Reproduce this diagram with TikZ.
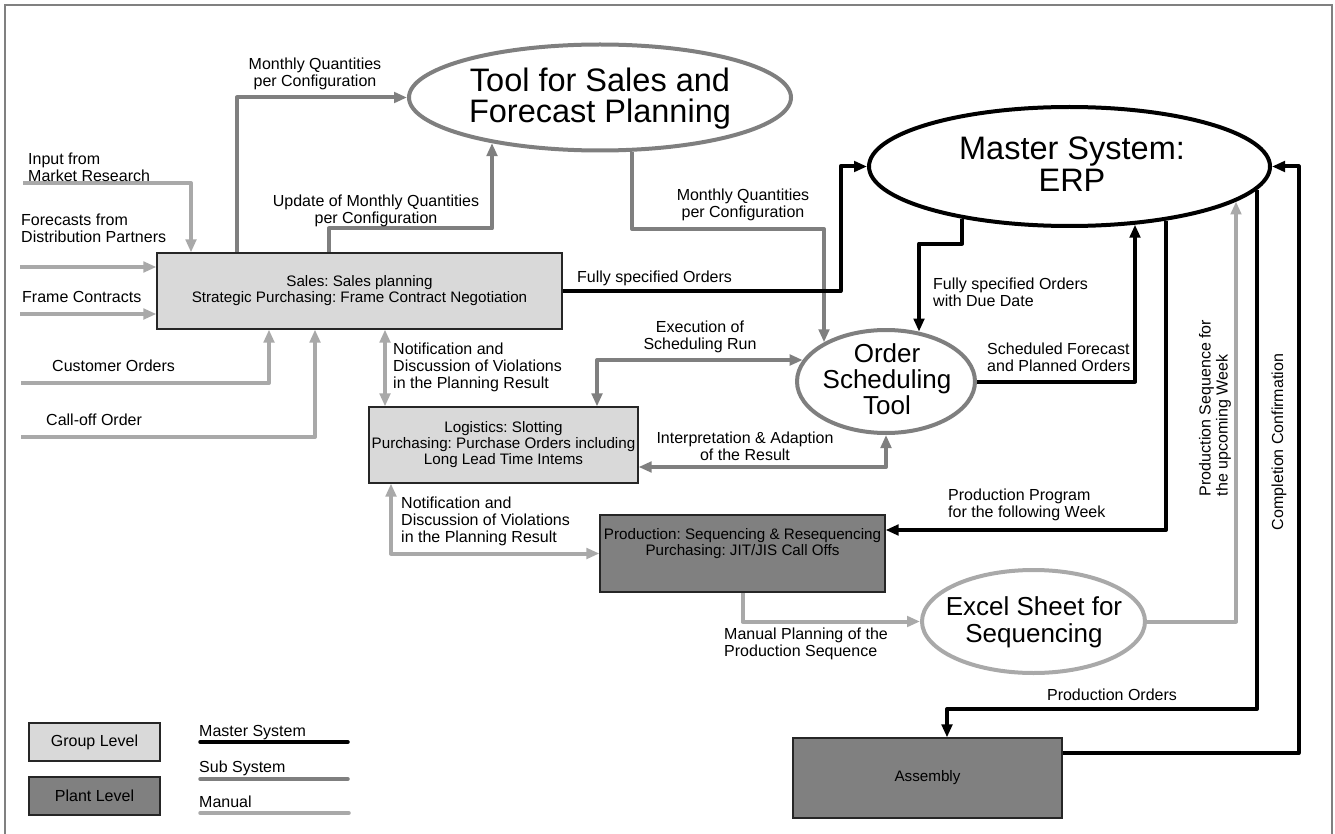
\documentclass[tikz,border=0pt]{standalone}
\usepackage{fontspec}
\setmainfont{Liberation Sans}
\frenchspacing
\usetikzlibrary{arrows.meta,shapes.geometric,backgrounds}
\definecolor{subgray}{HTML}{7F7F7F}
\definecolor{mangray}{HTML}{A9A9A9}
\definecolor{groupfill}{HTML}{D9D9D9}
\definecolor{plantfill}{HTML}{808080}
\definecolor{framegray}{HTML}{808080}

\begin{document}
\begin{tikzpicture}[x=1pt,y=-1pt,
  every node/.style={font=\fontsize{16}{17}\selectfont},
  lbl/.style={inner sep=0pt,align=center},
  lblL/.style={inner sep=0pt,align=left,anchor=west},
  flow/.style={line width=4pt,line join=round},
  master/.style={flow,draw=black},
  subsys/.style={flow,draw=subgray},
  manual/.style={flow,draw=mangray},
  tipend/.style={-{Triangle[length=13pt,width=10.5pt]}},
  tipboth/.style={{Triangle[length=13pt,width=10.5pt]}-{Triangle[length=13pt,width=10.5pt]}},
  levelbox/.style={draw=black!85,line width=1.2pt,inner xsep=0.5pt,inner ysep=0pt,align=center,font=\fontsize{15.2}{16}\selectfont},
  groupbox/.style={levelbox,fill=groupfill},
  plantbox/.style={levelbox,fill=plantfill},
  sysellipse/.style={ellipse,line width=4pt,fill=white,inner sep=0pt},
  systext/.style={inner sep=0pt,align=center},
]
\useasboundingbox (0,0) rectangle (1335,834);
\draw[framegray,line width=1.5pt] (5,834) -- (5,5) -- (1332,5) -- (1332,834);

% ---- systems (ellipses) ----
\node[sysellipse,draw=subgray,minimum width=382pt,minimum height=106pt] (tool) at (600,97.5) {};
\node[systext,font=\fontsize{32.5}{31}\selectfont] (tooltxt) at (600,98.6) {Tool for Sales and\\Forecast Planning};

\node[sysellipse,draw=black,minimum width=401pt,minimum height=119pt] (erp) at (1069.5,166.5) {};
\node[systext,font=\fontsize{32.5}{32}\selectfont] (erptxt) at (1072,164) {Master System:\\ERP};

\node[sysellipse,draw=subgray,minimum width=178pt,minimum height=103pt] (ost) at (886,381.5) {};
\node[systext,font=\fontsize{26}{26}\selectfont] (osttxt) at (887,379) {Order\\Scheduling\\Tool};

\node[sysellipse,draw=mangray,minimum width=223pt,minimum height=103pt] (excel) at (1033.5,621.5) {};
\node[systext,font=\fontsize{26}{27}\selectfont] (exceltxt) at (1034,622) {Excel Sheet for\\Sequencing};

% ---- organisational units ----
\node[groupbox,minimum width=405pt,minimum height=76pt] (sales) at (359.5,291) {Sales: Sales planning\\Strategic Purchasing: Frame Contract Negotiation};
\node[groupbox,minimum width=269pt,minimum height=76pt] (logi) at (503.5,445) {Logistics: Slotting\\Purchasing: Purchase Orders including\\Long Lead Time Intems};
\node[plantbox,minimum width=285pt,minimum height=77pt] (prod) at (742.5,553.5) {Production: Sequencing \& Resequencing\\Purchasing: JIT/JIS Call Offs\\[8pt]};
\node[plantbox,minimum width=269pt,minimum height=80pt] (asm) at (927.5,778) {Assembly};

% ---- free ends and rim points ----
\coordinate (inMR) at (23,183);
\coordinate (inFP) at (20,267);
\coordinate (inFC) at (20,314);
\coordinate (inCO) at (21,383);
\coordinate (inCF) at (21,437);
\coordinate (toolA) at (492,143.1);
\coordinate (toolB) at (632,151.7);
\coordinate (ostA) at (824,342.3);
\coordinate (ostB) at (802.7,360);
\coordinate (ostC) at (919,331.6);
\coordinate (erpA) at (962,218.6);
\coordinate (erpB) at (1135,224.7);
\coordinate (erpC) at (1166,220.6);
\coordinate (erpD) at (1236,201.5);
\coordinate (erpE) at (1257,189.7);

% ---- information flows ----
\begin{scope}[on background layer]
  % manual
  \draw[manual,tipend] (inMR) -| ([xshift=-168.5pt]sales.north);
  \draw[manual,tipend] (inFP) -- (inFP -| sales.west);
  \draw[manual,tipend] (inFC) -- (inFC -| sales.west);
  \draw[manual,tipend] (inCO) -| ([xshift=-90.5pt]sales.south);
  \draw[manual,tipend] (inCF) -| ([xshift=-44.5pt]sales.south);
  \draw[manual,tipboth] ([xshift=25.5pt]sales.south) -- ([xshift=-118.5pt]logi.north);
  \draw[manual,tipboth] ([xshift=-112.5pt]logi.south) |- (prod.west);
  \draw[manual,tipend] (prod.south) |- (excel.west);
  \draw[manual,tipend] (excel.east) -| (erpD);
  % sub system
  \draw[subsys,tipend] ([xshift=-122.5pt]sales.north) |- (tool.west);
  \draw[subsys,tipend] ([xshift=-30.5pt]sales.north) -- ++(0,-24) -| (toolA);
  \draw[subsys,tipend] (toolB) -- ++(0,77.3) -| (ostA);
  \draw[subsys,tipboth] (ostB) -| ([xshift=93.5pt]logi.north);
  \draw[subsys,tipboth] (ost.south) |- ([yshift=-22pt]logi.east);
  % master system
  \draw[master,tipend] (sales.east) -- ++(278,0) |- (erp.west);
  \draw[master,tipend] (erpA) -- ++(0,25) -| (ostC);
  \draw[master,tipend] (ost.east) -| (erpB);
  \draw[master,tipend] (erpC) |- ([yshift=23.5pt]prod.east);
  \draw[master,tipend] (erpE) -- ++(0,519.3) -| ([xshift=19.5pt]asm.north);
  \draw[master,tipend] ([yshift=25pt]asm.east) -- ++(236,0) |- (erp.east);
\end{scope}

% ---- flow labels ----
\node[lblL] (lMR) at (28,167) {Input from\\Market Research};
\node[lblL] (lFP) at (21,228) {Forecasts from\\Distribution Partners};
\node[lblL] (lFC) at (22,297) {Frame Contracts};
\node[lblL] (lCO) at (52,366) {Customer Orders};
\node[lblL] (lCF) at (46,420) {Call-off Order};
\node[lbl] (lMQ1) at (315,74) {Monthly Quantities\\per Configuration};
\node[lbl] (lUpd) at (376,211) {Update of Monthly Quantities\\per Configuration};
\node[lbl] (lMQ2) at (743,205) {Monthly Quantities\\per Configuration};
\node[lblL] (lFSO) at (577,278) {Fully specified Orders};
\node[lblL] (lFSD) at (933,292) {Fully specified Orders\\with Due Date};
\node[lblL] (lSFP) at (987,357) {Scheduled Forecast\\and Planned Orders};
\node[lbl] (lExe) at (700,337) {Execution of\\Scheduling Run};
\node[lblL] (lNot1) at (393,367) {Notification and\\Discussion of Violations\\in the Planning Result};
\node[lbl] (lInt) at (745,446) {Interpretation \& Adaption\\of the Result};
\node[lblL] (lNot2) at (401,521) {Notification and\\Discussion of Violations\\in the Planning Result};
\node[lblL] (lPP) at (948,505) {Production Program\\for the following Week};
\node[lblL] (lMP) at (724,644) {Manual Planning of the\\Production Sequence};
\node[lbl] (lPO) at (1112,695) {Production Orders};
\node[lbl,align=left,rotate=90] (lPS) at (1215,408) {Production Sequence for\\the upcoming Week};
\node[lbl,rotate=90] (lCC) at (1279,442) {Completion Confirmation};

% ---- legend ----
\node[groupbox,minimum width=131pt,minimum height=38pt,font=\fontsize{16}{17}\selectfont] (legG) at (94.5,742) {Group Level};
\node[plantbox,minimum width=131pt,minimum height=38pt,font=\fontsize{16}{17}\selectfont] (legP) at (94.5,796) {Plant Level};
\node[lblL] (legM) at (199,733) {Master System};
\node[lblL] (legS) at (199,768) {Sub System};
\node[lblL] (legU) at (199,802) {Manual};
\draw[draw=black,line width=3.5pt,line cap=round] (200,742) -- (348,742);
\draw[draw=subgray,line width=3.5pt,line cap=round] (200,779) -- (348,779);
\draw[draw=mangray,line width=3.5pt,line cap=round] (200,813) -- (349,813);
\end{tikzpicture}
\end{document}
